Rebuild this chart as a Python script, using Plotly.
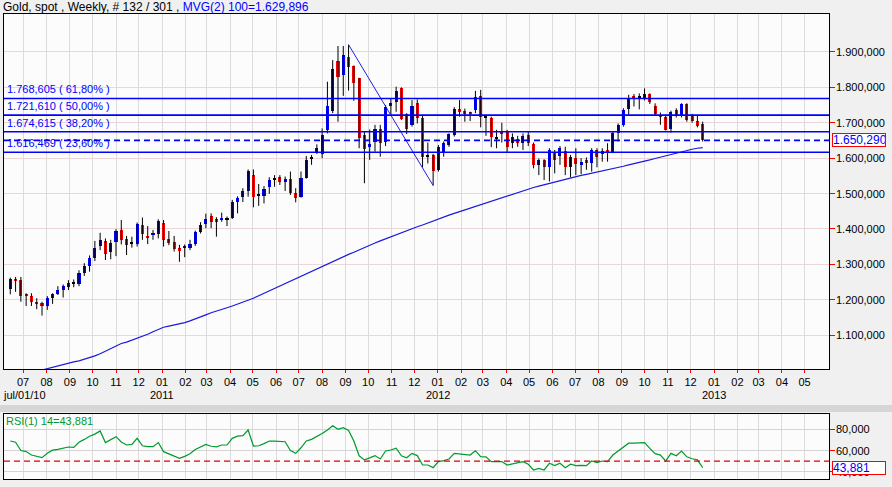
import pandas as pd
import plotly.graph_objects as go

# ---------------- data ----------------
start_date = "2010-06-14"
opens = [1231,1258,1256,1213,1210,1191,1190,1182,1205,1216,1227,1236,1246,1244,1276,1295,1317,1353,1366,1336,
         1363,1397,1370,1361,1357,1411,1380,1384,1386,1416,1371,1364,1347,1346,1345,1357,1390,1415,1436,1428,
         1425,1427,1432,1476,1491,1508,1552,1495,1494,1519,1541,1546,1533,1541,1501,1490,1545,1599,1616,1612,
         1680,1733,1875,1835,1887,1860,1827,1665,1634,1647,1682,1647,1746,1760,1797,1724,1695,1757,1714,1605,
         1609,1566,1614,1637,1665,1739,1733,1729,1736,1776,1716,1714,1658,1673,1675,1644,1653,1644,1665,1640,
         1581,1595,1574,1614,1606,1621,1574,1600,1581,1595,1585,1623,1612,1623,1616,1670,1694,1738,1776,1772,
         1769,1781,1746,1722,1717,1681,1736,1719,1753,1719,1706,1697]
highs = [1262,1264,1264,1218,1218,1204,1194,1210,1218,1238,1243,1255,1257,1283,1303,1325,1366,1389,1373,1369,
         1399,1425,1380,1378,1418,1432,1408,1397,1427,1425,1394,1380,1355,1356,1369,1395,1419,1443,1444,1433,
         1446,1435,1482,1492,1515,1568,1568,1527,1521,1546,1552,1552,1548,1562,1515,1562,1606,1609,1639,1684,
         1816,1877,1917,1917,1920.74,1862,1827,1675,1681,1694,1694,1750,1769,1802,1800,1727,1764,1766,1719,1644,
         1612,1637,1647,1670,1744,1764,1740,1731,1790,1793,1719,1717,1680,1700,1680,1670,1663,1670,1675,1644,
         1599,1597,1628,1623,1634,1632,1609,1628,1600,1602,1628,1628,1628,1642,1675,1698,1741,1779,1781,1783,
         1797,1783,1755,1729,1719,1734,1741,1755,1755,1725,1722,1703]
lows = [1215,1222,1194,1182,1182,1173,1155,1171,1188,1213,1206,1227,1235,1238,1267,1279,1309,1340,1312,1314,
        1323,1356,1326,1347,1350,1369,1357,1369,1373,1350,1354,1336,1307,1320,1340,1352,1387,1402,1402,1378,
        1420,1408,1428,1444,1476,1491,1461,1465,1472,1499,1519,1524,1507,1496,1475,1488,1542,1581,1612,1600,
        1670,1727,1703,1776,1791,1762,1628,1529,1595,1618,1604,1634,1722,1731,1708,1668,1689,1698,1574,1585,
        1522.48,1562,1604,1632,1661,1717,1703,1705,1727,1687,1663,1631,1628,1644,1616,1628,1632,1623,1634,1571,
        1552,1538,1534,1557,1581,1552,1546,1552,1555,1567,1562,1574,1590,1590,1614,1647,1689,1722,1746,1738,
        1763,1753,1722,1694,1678,1672,1715,1715,1703,1700,1687,1647]
closes = [1257,1255,1211,1211,1194,1189,1183,1205,1216,1227,1238,1247,1247,1275,1295,1318,1346,1369,1330,1361,
          1394,1369,1354,1362,1415,1386,1374,1387,1421,1369,1360,1343,1338,1349,1357,1391,1412,1428,1420,1420,
          1432,1428,1476,1488,1506,1564,1491,1495,1514,1538,1541,1533,1541,1501,1488,1545,1595,1600,1630,1666,
          1747,1852,1828,1892,1859,1813,1658,1625,1639,1681,1644,1744,1755,1790,1710,1681,1747,1713,1602,1605,
          1565,1631,1642,1668,1739,1729,1725,1725,1772,1715,1716,1661,1658,1667,1632,1659,1644,1663,1644,1581,
          1595,1576,1623,1595,1628,1574,1604,1583,1590,1587,1623,1602,1621,1616,1670,1694,1736,1769,1772,1772,
          1781,1760,1725,1715,1680,1731,1719,1753,1708,1706,1691,1650.29]
ma100 = [978,982,986,990,994,998,1002,1006,1010,1014,1018,1021,1024,1027,1031,1036,1041,1047,1054,1062,
         1070,1076,1080,1085,1090,1096,1102,1109,1116,1122,1125,1128,1130,1135,1140,1145,1151,1157,1163,1167,
         1172,1177,1182,1187,1192,1197,1204,1211,1218,1225,1232,1239,1246,1252,1259,1266,1273,1280,1287,1294,
         1301,1308,1314,1321,1328,1334,1341,1347,1353,1360,1366,1372,1378,1384,1389,1395,1400,1406,1411,1417,
         1422,1428,1433,1439,1444,1449,1454,1459,1464,1469,1474,1479,1484,1489,1494,1498,1503,1508,1512,1517,
         1521,1525,1529,1532,1535,1539,1543,1547,1551,1554,1557,1561,1564,1567,1571,1574,1577,1581,1584,1588,
         1591,1595,1599,1603,1607,1611,1615,1619,1622,1625,1628,1629.896]
rsi14 = [69,67.8,60,59,55.7,54.8,53.2,57.3,60.3,61,62.1,63.3,63,67.8,70.5,73.5,75.5,78.5,67.5,70.5,
         73.1,68,65.2,65.8,71.5,64.5,63.6,63.6,67.5,58.9,57,54.5,52.6,54.5,57,61,63.6,65.8,64,63.5,
         65.2,65.2,71.5,73.5,74.1,79.4,64.2,64.5,66.5,68.9,68.9,68.7,68.3,60,57.3,62.6,69,70.5,73,76,
         79.4,83.4,80,81.6,79,69,55,51.1,53,55.2,52,59.5,60.5,62.1,55,53.2,57.3,55.2,46.3,46.3,
         43.8,49.5,50.5,52,57.3,56.6,56,55.7,59.8,54.2,54,49.5,49.5,49.5,46.3,47.5,48.6,49.5,47,41.6,
         43.1,41.6,47.9,45.7,47.9,43.8,47,45.7,45.9,45.7,50.1,48.6,50.1,49.5,55.7,59.5,63,66.9,67,67,
         67.5,62,57,55.7,50.1,57.3,55,59.5,54,52.2,51.2,43.881]
fib_ratios = [0.618, 0.5, 0.382, 0.236]
fib_high_idx, fib_low_idx = 64, 80
month_ticks = pd.date_range("2010-07-01", "2013-05-01", freq="MS")
year_labels = ["2011", "2012", "2013"]
price_ticks = [1100, 1200, 1300, 1400, 1500, 1600, 1700, 1800, 1900]
rsi_ticks = [40, 60, 80]
rsi_mid = 50

# ---------------- helpers ----------------
def eu(v, d=3):
    s = f"{v:,.{d}f}"
    return s.replace(",", "X").replace(".", ",").replace("X", ".")

W, H = 892, 487
px_x = lambda p: p / W
px_y = lambda p: 1 - p / H
FONT = "Liberation Sans, Arial, sans-serif"

dates = pd.date_range(start_date, periods=len(closes), freq="7D")
n = len(closes)

# wicks
wx, wy = [], []
for d, lo, hi in zip(dates, lows, highs):
    wx += [d, d, None]
    wy += [lo, hi, None]

# bodies
base, height, colors = [], [], []
for o, c in zip(opens, closes):
    diff = c - o
    if abs(diff) < 1.5:
        col = "#000000"
    elif diff > 0:
        col = "#0000ff"
    else:
        col = "#ff0000"
    h = max(abs(diff), 2.9)
    lo = min(o, c) if abs(diff) >= 2.9 else (o + c) / 2 - h / 2
    base.append(lo)
    height.append(h)
    colors.append(col)

fig = go.Figure()
fig.add_trace(go.Scatter(x=wx, y=wy, mode="lines", line=dict(color="black", width=1),
                         xaxis="x", yaxis="y", hoverinfo="skip", showlegend=False))
fig.add_trace(go.Bar(x=dates, y=height, base=base, marker=dict(color=colors, line=dict(width=0)),
                     width=4.0 * 86400000, xaxis="x", yaxis="y", showlegend=False))
fig.add_trace(go.Scatter(x=dates, y=ma100, mode="lines", line=dict(color="#1a1adc", width=1.2),
                         xaxis="x", yaxis="y", showlegend=False))

# fib trend line (high -> low)
fh = highs[fib_high_idx]
fl = lows[fib_low_idx]
fig.add_trace(go.Scatter(x=[dates[fib_high_idx], dates[fib_low_idx]], y=[fh, fl], mode="lines",
                         line=dict(color="#2020e0", width=1), xaxis="x", yaxis="y", showlegend=False))

# RSI
fig.add_trace(go.Scatter(x=dates, y=rsi14, mode="lines", line=dict(color="#009a2e", width=1.2),
                         xaxis="x2", yaxis="y2", showlegend=False))

shapes = []
annotations = []
for r in fib_ratios:
    lvl = fl + (fh - fl) * r
    shapes.append(dict(type="line", xref="x domain", yref="y", x0=0, x1=1, y0=lvl, y1=lvl,
                       line=dict(color="#0000ff", width=1.6)))
    annotations.append(dict(xref="paper", yref="y", x=px_x(5), y=lvl, xanchor="left", yanchor="bottom",
                            yshift=1, showarrow=False,
                            text=f"{eu(lvl)} ( {eu(r * 100, 2)}% )",
                            font=dict(family=FONT, size=11, color="#0000ff")))
last = closes[-1]
shapes.append(dict(type="line", xref="x domain", yref="y", x0=0, x1=1, y0=last, y1=last,
                   line=dict(color="#0000ff", width=1.6, dash="6px,4px")))
shapes.append(dict(type="line", xref="x2 domain", yref="y2", x0=0, x1=1, y0=rsi_mid, y1=rsi_mid,
                   line=dict(color="#e00000", width=1.4, dash="6px,4px")))
# separator strip
shapes.append(dict(type="rect", xref="paper", yref="paper", x0=0, x1=1, y0=px_y(412), y1=px_y(405),
                   fillcolor="#d6d6d6", line=dict(width=0), layer="below"))

# y tick labels (placed right next to the red tick marks)
for v in price_ticks:
    annotations.append(dict(xref="paper", yref="y", x=px_x(835), y=v, xanchor="left", yanchor="middle",
                            showarrow=False, text=eu(v), borderpad=0,
                            font=dict(family=FONT, size=11, color="black")))
for v in rsi_ticks:
    annotations.append(dict(xref="paper", yref="y2", x=px_x(835), y=v, xanchor="left", yanchor="middle",
                            showarrow=False, text=eu(v), borderpad=0,
                            font=dict(family=FONT, size=11, color="black")))

# header
annotations.append(dict(xref="paper", yref="paper", x=px_x(1), y=px_y(7), xanchor="left", yanchor="middle",
                        showarrow=False,
                        text=f"Gold, spot , Weekly, # {n} / 301 , <span style='color:#0000ff'>MVG(2) 100={eu(ma100[-1])}</span>",
                        font=dict(family=FONT, size=12, color="black")))
# price boxes
for yref, val in (("y", last), ("y2", rsi14[-1])):
    annotations.append(dict(xref="paper", yref=yref, x=px_x(832), y=val, xanchor="left", yanchor="middle",
                            showarrow=False, text=eu(val), bgcolor="white", bordercolor="#ff0000",
                            borderwidth=1, borderpad=0, width=52, height=12, align="left",
                            font=dict(family=FONT, size=12, color="#0000ff")))
# RSI label
annotations.append(dict(xref="paper", yref="paper", x=px_x(4), y=px_y(421), xanchor="left", yanchor="middle",
                        showarrow=False, text=f"RSI(1) 14={eu(rsi14[-1])}",
                        font=dict(family=FONT, size=11, color="#009a2e")))
# year labels
annotations.append(dict(xref="paper", yref="paper", x=px_x(1), y=px_y(394.5), xanchor="left", yanchor="middle",
                        showarrow=False, text=month_ticks[0].strftime("%b/%d/%y").lower(),
                        font=dict(family=FONT, size=11, color="black")))
for yl in year_labels:
    annotations.append(dict(xref="x", yref="paper", x=f"{yl}-01-01", y=px_y(394.5), xanchor="center",
                            yanchor="middle", showarrow=False, text=yl,
                            font=dict(family=FONT, size=11, color="black")))

xrange = ["2010-06-05 16:00", "2013-06-02 07:00"]
xdom = [px_x(4), px_x(829)]
common_x = dict(type="date", range=xrange, domain=xdom, showgrid=True, gridcolor="#dcdcdc", gridwidth=1,
                tickvals=list(month_ticks), ticktext=[d.strftime("%m") for d in month_ticks],
                showline=True, linecolor="black", linewidth=1, mirror=True, zeroline=False)

fig.update_layout(
    width=W, height=H, autosize=False,
    margin=dict(l=0, r=0, t=0, b=0),
    paper_bgcolor="#f0f0f0", plot_bgcolor="#fcfcfc",
    separators=",.",
    font=dict(family=FONT, size=11, color="black"),
    showlegend=False, bargap=0,
    xaxis=dict(**common_x, anchor="y", ticks="outside", ticklen=3, tickcolor="#ff0000",
               tickfont=dict(family=FONT, size=11, color="black"), rangeslider=dict(visible=False)),
    yaxis=dict(domain=[px_y(369), px_y(14)], range=[1003.9, 2007.4], side="right", anchor="x",
               tickvals=price_ticks, showticklabels=False,
               ticks="outside", ticklen=5, tickcolor="#ff0000", showgrid=True, gridcolor="#ead6d6",
               showline=True, linecolor="black", linewidth=1, mirror=True, zeroline=False),
    xaxis2=dict(**common_x, anchor="y2", matches="x", showticklabels=False, ticks=""),
    yaxis2=dict(domain=[px_y(479.3), px_y(414.3)], range=[32.8, 94.2], side="right", anchor="x2",
                tickvals=rsi_ticks, showticklabels=False, ticks="outside", ticklen=5, tickcolor="#ff0000",
                showgrid=True, gridcolor="#d4d4d4", showline=True, linecolor="black", linewidth=1,
                mirror=True, zeroline=False),
    shapes=shapes, annotations=annotations,
)

fig.write_html("out.html", config={"displayModeBar": False},
               post_script="document.body.style.margin='0';document.body.style.padding='0';")
